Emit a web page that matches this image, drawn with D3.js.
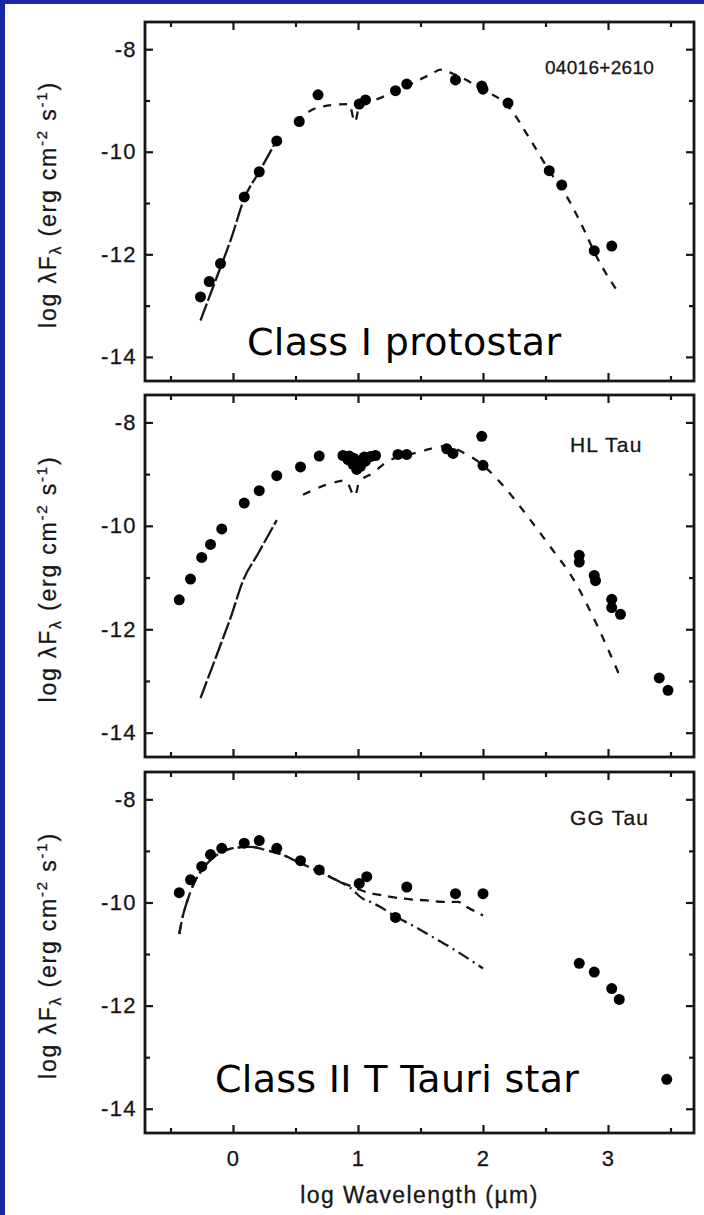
<!DOCTYPE html>
<html>
<head>
<meta charset="utf-8">
<script src="https://cdn.jsdelivr.net/npm/d3@7"></script>
<style>
  html, body { margin: 0; padding: 0; background: #fff; }
  svg { display: block; }
</style>
</head>
<body>
<svg id="chart" width="704" height="1215"></svg>
<script>
// ---- axis ticks and labels ----
const xMajorTicks = [0, 1, 2, 3];
const xMinorTicks = [-0.5, 0.5, 1.5, 2.5, 3.5];
const xTickLabels = ["0", "1", "2", "3"];
const yMajorTicks = [-8, -10, -12, -14];
const yMinorTicks = [-9, -11, -13];
const yTickLabels = ["-8", "-10", "-12", "-14"];
const xTitle = "log Wavelength (\u00b5m)";
const panelNames = ["04016+2610", "HL Tau", "GG Tau"];

// ---- 04016+2610 : observed SED ----
const obsAX = [-0.26, -0.19, -0.10, 0.09, 0.21, 0.35, 0.53, 0.68, 1.01, 1.06, 1.30, 1.39, 1.78, 1.99, 2.00, 2.20, 2.53, 2.63, 2.89, 3.03];
const obsAY = [-12.83, -12.53, -12.18, -10.88, -10.39, -9.79, -9.41, -8.89, -9.07, -8.99, -8.81, -8.68, -8.60, -8.72, -8.78, -9.05, -10.37, -10.65, -11.93, -11.84];
// envelope model (near-IR part drawn almost solid, the rest dashed)
const modelASolidX = [-0.26, -0.14, -0.01, 0.09, 0.21, 0.35];
const modelASolidY = [-13.29, -12.51, -11.66, -10.91, -10.39, -9.77];
const modelADashX = [0.50, 0.69, 0.93, 0.975, 1.01, 1.19, 1.37, 1.59, 1.66, 1.76, 2.00, 2.20, 2.38, 2.53, 2.66, 2.81, 2.91, 3.09];
const modelADashY = [-9.41, -9.13, -9.07, -9.42, -9.13, -8.94, -8.74, -8.48, -8.40, -8.48, -8.79, -9.11, -9.77, -10.37, -10.83, -11.53, -12.05, -12.77];

// ---- HL Tau : observed SED ----
const obsBX = [-0.43, -0.34, -0.25, -0.18, -0.09, 0.09, 0.21, 0.35, 0.54, 0.69,
               0.88, 0.92, 0.93, 0.96, 0.97, 0.99, 0.99, 1.01, 1.02, 1.05, 1.06, 1.10, 1.14,
               1.32, 1.39, 1.71, 1.76, 1.99, 2.00, 2.77, 2.77, 2.89, 2.90, 3.03, 3.03, 3.10, 3.41, 3.48];
const obsBY = [-11.43, -11.03, -10.61, -10.36, -10.06, -9.56, -9.32, -9.03, -8.86, -8.65,
               -8.64, -8.72, -8.65, -8.81, -8.70, -8.91, -8.82, -8.78, -8.85, -8.67, -8.75, -8.66, -8.64,
               -8.62, -8.62, -8.51, -8.60, -8.27, -8.83, -10.57, -10.70, -10.96, -11.06, -11.42, -11.58, -11.71, -12.94, -13.18];
const modelBSolidX = [-0.26, -0.14, -0.01, 0.08, 0.20, 0.35];
const modelBSolidY = [-13.33, -12.56, -11.71, -11.06, -10.54, -9.89];
const modelBDashX = [0.56, 0.81, 0.90, 0.975, 1.01, 1.12, 1.23, 1.40, 1.52, 1.69, 1.87, 2.00, 2.16, 2.38, 2.54, 2.73, 2.91, 3.09];
const modelBDashY = [-9.40, -9.16, -9.12, -9.43, -9.15, -8.98, -8.76, -8.63, -8.55, -8.46, -8.62, -8.83, -9.22, -9.89, -10.41, -11.06, -11.91, -12.88];

// ---- GG Tau : observed SED ----
const obsCX = [-0.43, -0.34, -0.25, -0.18, -0.09, 0.09, 0.21, 0.35, 0.54, 0.69, 1.01, 1.07, 1.30, 1.39, 1.78, 2.00, 2.77, 2.89, 3.03, 3.09, 3.47];
const obsCY = [-9.81, -9.56, -9.30, -9.07, -8.95, -8.85, -8.80, -8.95, -9.19, -9.37, -9.63, -9.50, -10.29, -9.70, -9.83, -9.83, -11.18, -11.35, -11.67, -11.88, -13.43];
// stellar photosphere and star+disk models share the optical part
const modelCSharedX = [-0.43, -0.40, -0.36, -0.32, -0.24, -0.13, -0.01, 0.14, 0.26, 0.40, 0.54, 0.70, 0.83];
const modelCSharedY = [-10.61, -10.25, -9.93, -9.67, -9.34, -9.08, -8.95, -8.92, -8.98, -9.08, -9.24, -9.41, -9.57];
const modelCDiskX = [0.94, 1.07, 1.19, 1.26, 1.42, 1.55, 1.68, 1.80, 1.88, 2.00];
const modelCDiskY = [-9.68, -9.80, -9.86, -9.89, -9.94, -9.96, -9.99, -9.99, -10.10, -10.25];
const modelCStarX = [0.94, 1.04, 1.10, 1.18, 1.30, 1.44, 1.59, 1.76, 2.00];
const modelCStarY = [-9.72, -9.93, -9.99, -10.09, -10.27, -10.45, -10.66, -10.90, -11.28];

// ---- layout ----
const BLUE = "#1a28a8";
const INK = "#161616";
const AXIS_FONT = "'Liberation Sans', Arial, Helvetica, sans-serif";
const frameLeft = 145, frameRight = 694;
const xDomain = [-0.704, 3.688];
const yDomain = [-14.47, -7.47];

const zip = (xs, ys) => xs.map((v, i) => [v, ys[i]]);

const panels = [
  { top: 22, bottom: 381, name: panelNames[0], nameX: 545, nameY: 74, nameSize: 19, nameSpacing: 0.3,
    points: zip(obsAX, obsAY),
    lines: [
      { pts: zip(modelASolidX, modelASolidY), dash: "18,3" },
      { pts: zip(modelADashX, modelADashY), dash: "8,8" }
    ],
    big: { text: "Class I protostar", x: 247, y: 355 } },
  { top: 395, bottom: 757, name: panelNames[1], nameX: 570, nameY: 452, nameSize: 21, nameSpacing: 1.2,
    points: zip(obsBX, obsBY),
    lines: [
      { pts: zip(modelBSolidX, modelBSolidY), dash: "18,3" },
      { pts: zip(modelBDashX, modelBDashY), dash: "8,9" }
    ],
    big: null },
  { top: 772, bottom: 1133, name: panelNames[2], nameX: 570, nameY: 825, nameSize: 21, nameSpacing: 1.2,
    points: zip(obsCX, obsCY),
    lines: [
      { pts: zip(modelCSharedX.concat(modelCDiskX), modelCSharedY.concat(modelCDiskY)), dash: "9,7" },
      { pts: zip(modelCSharedX.concat(modelCStarX), modelCSharedY.concat(modelCStarY)), dash: "12,5,2,5" }
    ],
    big: { text: "Class II T Tauri star", x: 215, y: 1092 } }
];

const svg = d3.select("#chart");
svg.append("rect").attr("width", 704).attr("height", 1215).attr("fill", "#fff");

const x = d3.scaleLinear().domain(xDomain).range([frameLeft, frameRight]);

function styleAxis(sel) {
  sel.select(".domain").remove();
  sel.attr("color", INK);
  sel.selectAll(".tick line").attr("stroke-width", 2.2);
  sel.selectAll("text")
    .attr("fill", INK)
    .attr("stroke", INK).attr("stroke-width", 0.3)
    .style("font-family", AXIS_FONT)
    .style("font-size", "22px")
    .style("letter-spacing", "1.4px");
}

panels.forEach((p, i) => {
  const y = d3.scaleLinear().domain(yDomain).range([p.bottom, p.top]);
  const g = svg.append("g").attr("class", "panel");
  const isLast = i === panels.length - 1;

  // inward ticks on all four sides
  g.append("g").attr("transform", `translate(0,${p.bottom})`)
    .call(d3.axisBottom(x).tickValues(xMajorTicks).tickSizeInner(-8).tickSizeOuter(0).tickPadding(17)
      .tickFormat((d, k) => isLast ? xTickLabels[k] : ""))
    .call(styleAxis);
  g.append("g").attr("transform", `translate(0,${p.bottom})`)
    .call(d3.axisBottom(x).tickValues(xMinorTicks).tickSizeInner(-5).tickSizeOuter(0).tickFormat(""))
    .call(styleAxis);
  g.append("g").attr("transform", `translate(0,${p.top})`)
    .call(d3.axisTop(x).tickValues(xMajorTicks).tickSizeInner(-8).tickSizeOuter(0).tickFormat(""))
    .call(styleAxis);
  g.append("g").attr("transform", `translate(0,${p.top})`)
    .call(d3.axisTop(x).tickValues(xMinorTicks).tickSizeInner(-5).tickSizeOuter(0).tickFormat(""))
    .call(styleAxis);

  g.append("g").attr("transform", `translate(${frameLeft},0)`)
    .call(d3.axisLeft(y).tickValues(yMajorTicks).tickSizeInner(-8).tickSizeOuter(0).tickPadding(8)
      .tickFormat((d, k) => yTickLabels[k]))
    .call(styleAxis);
  g.append("g").attr("transform", `translate(${frameLeft},0)`)
    .call(d3.axisLeft(y).tickValues(yMinorTicks).tickSizeInner(-5).tickSizeOuter(0).tickFormat(""))
    .call(styleAxis);
  g.append("g").attr("transform", `translate(${frameRight},0)`)
    .call(d3.axisRight(y).tickValues(yMajorTicks).tickSizeInner(-8).tickSizeOuter(0).tickFormat(""))
    .call(styleAxis);
  g.append("g").attr("transform", `translate(${frameRight},0)`)
    .call(d3.axisRight(y).tickValues(yMinorTicks).tickSizeInner(-5).tickSizeOuter(0).tickFormat(""))
    .call(styleAxis);

  // frame
  g.append("rect")
    .attr("x", frameLeft).attr("y", p.top)
    .attr("width", frameRight - frameLeft).attr("height", p.bottom - p.top)
    .attr("fill", "none").attr("stroke", INK).attr("stroke-width", 2.8);

  // model curves
  const line = d3.line().x(d => x(d[0])).y(d => y(d[1])).curve(d3.curveMonotoneX);
  p.lines.forEach(l => {
    g.append("path").attr("d", line(l.pts))
      .attr("fill", "none").attr("stroke", INK).attr("stroke-width", 2.3)
      .attr("stroke-dasharray", l.dash);
  });

  // observed photometry
  g.selectAll("circle.obs").data(p.points).join("circle")
    .attr("class", "obs")
    .attr("cx", d => x(d[0])).attr("cy", d => y(d[1]))
    .attr("r", 5.5).attr("fill", "#000");

  // object name
  g.append("text").attr("x", p.nameX).attr("y", p.nameY)
    .attr("fill", INK).attr("stroke", INK).attr("stroke-width", 0.3)
    .style("font-family", AXIS_FONT).style("font-size", p.nameSize + "px")
    .style("letter-spacing", p.nameSpacing + "px")
    .text(p.name);

  // y axis title
  const yt = g.append("text")
    .attr("transform", `translate(56,${(p.top + p.bottom) / 2 + 3}) rotate(-90)`)
    .attr("text-anchor", "middle").attr("fill", INK).attr("stroke", INK).attr("stroke-width", 0.3)
    .style("font-family", AXIS_FONT).style("font-size", "23px").style("letter-spacing", "1.8px");
  yt.append("tspan").text("log \u03bbF");
  yt.append("tspan").text("\u03bb").style("font-size", "16px").attr("dy", 5);
  yt.append("tspan").text(" (erg cm").attr("dy", -5);
  yt.append("tspan").text("-2").style("font-size", "15px").attr("dy", -9);
  yt.append("tspan").text(" s").attr("dy", 9);
  yt.append("tspan").text("-1").style("font-size", "15px").attr("dy", -9);
  yt.append("tspan").text(")").attr("dy", 9);

  // slide annotation
  if (p.big) {
    g.append("text").attr("x", p.big.x).attr("y", p.big.y)
      .attr("fill", "#000")
      .style("font-family", "'DejaVu Sans', Verdana, sans-serif").style("font-size", "38px")
      .style("letter-spacing", "0.3px")
      .text(p.big.text);
  }
});

// x axis title
svg.append("text")
  .attr("x", (frameLeft + frameRight) / 2).attr("y", 1203)
  .attr("text-anchor", "middle").attr("fill", INK).attr("stroke", INK).attr("stroke-width", 0.3)
  .style("font-family", AXIS_FONT).style("font-size", "23px").style("letter-spacing", "1.4px")
  .text(xTitle);

// slide border
svg.append("rect").attr("x", 0).attr("y", 0).attr("width", 5).attr("height", 1215).attr("fill", BLUE);
svg.append("rect").attr("x", 0).attr("y", 0).attr("width", 704).attr("height", 4).attr("fill", BLUE);
</script>
</body>
</html>
